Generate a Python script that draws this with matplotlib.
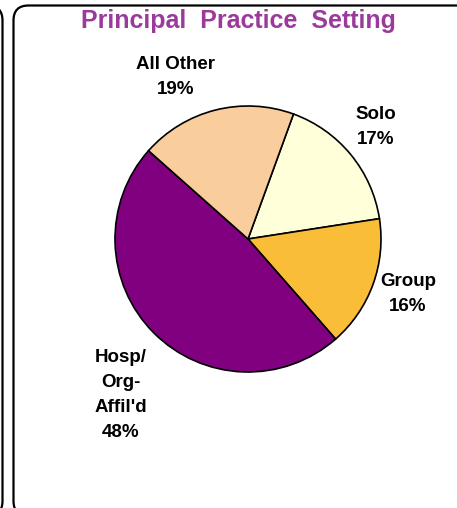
import matplotlib
matplotlib.use("Agg")
import matplotlib.pyplot as plt
from matplotlib.patches import FancyBboxPatch

title = "Principal  Practice  Setting"
categories = ["Solo", "Group", "Hosp/\nOrg-\nAffil'd", "All Other"]
values = [17, 16, 48, 19]
colors = ["#FFFFDA", "#FABD38", "#800080", "#F9CE9C"]
# label centres in pixel coordinates (x, y from top)
label_pos = [(376, 127), (408, 294), (121, 395), (176, 77)]

W, H = 457, 508
plt.rcParams['font.family'] = ['Liberation Sans', 'DejaVu Sans']
fig = plt.figure(figsize=(W / 100, H / 100), dpi=100)

bg = fig.add_axes([0, 0, 1, 1])
bg.set_xlim(0, W)
bg.set_ylim(H, 0)
bg.axis('off')
# panel borders (display pixel coords, origin bottom-left)
top = H - 5.5
for x0, w in [(13.5, 470), (-400, 402.5)]:
    p = FancyBboxPatch((x0, -8), w, top + 8, boxstyle="round,pad=0,rounding_size=15",
                       fill=False, ec='black', lw=1.6, transform=None)
    fig.patches.append(p)

bg.text(238, 21, title, ha='center', va='center', fontsize=18, fontweight='bold',
        color='#9B3A9B')

cx, cy, r = 248, 239, 133
pax = fig.add_axes([(cx - r) / W, (H - cy - r) / H, 2 * r / W, 2 * r / H])
wedges, _ = pax.pie(values, colors=colors, startangle=70, counterclock=False, radius=1,
                    wedgeprops=dict(edgecolor='black', linewidth=1.2))
for w in wedges:
    w.set_clip_on(False)
pax.set_xlim(-1, 1)
pax.set_ylim(-1, 1)
pax.axis('off')

for cat, v, (x, y) in zip(categories, values, label_pos):
    bg.text(x, y, f"{cat}\n{v}%", ha='center', va='center', fontsize=13.5,
            fontweight='bold', linespacing=1.64, multialignment='center')

fig.savefig("out.png", dpi=100)
